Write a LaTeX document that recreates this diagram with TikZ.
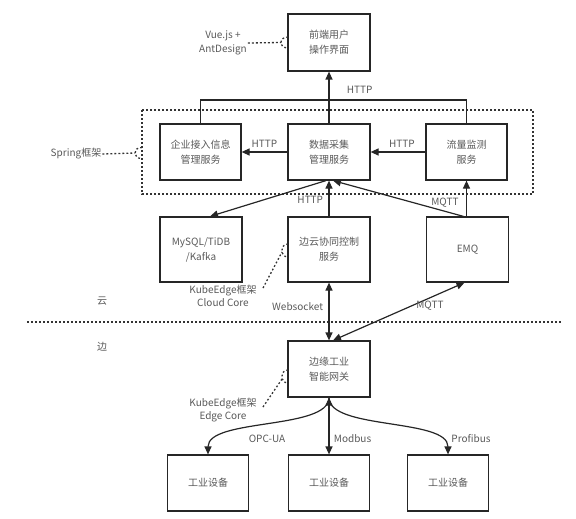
\documentclass[tikz,border=0pt]{standalone}
\usepackage{fontspec}
\setmainfont{Noto Sans CJK SC}
\usetikzlibrary{arrows.meta, positioning, calc}

\begin{document}
\begin{tikzpicture}[x=1pt,y=-1pt,font=\fontsize{10}{15}\selectfont,text=black!65,
    box/.style={draw=black!85,line width=1.2pt,minimum width=82pt,minimum height=56pt,
                align=center,inner sep=2pt},
    lbl/.style={align=center,inner sep=1pt,font=\fontsize{10}{13.5}\selectfont},
    link/.style={draw=black!85,line width=1.2pt,-{Triangle[length=8pt,width=7pt]}},
    both/.style={link,{Triangle[length=8pt,width=7pt]}-{Triangle[length=8pt,width=7pt]}},
    note/.style={draw=black!80,dash pattern=on 1.8pt off 2.2pt,line width=1.3pt}]
\useasboundingbox (0,0) rectangle (576,519);

% front end
\node[box,minimum height=57pt] (front) at (329,42.5) {前端用户\\操作界面};
\node[lbl] (vue) at (223,43) {Vue.js +\\AntDesign};

% spring services
\node[box,minimum width=81pt] (ent) at (200.5,152) {企业接入信息\\管理服务};
\node[box] (data) at (329,152) {数据采集\\管理服务};
\node[box,minimum width=81pt] (flow) at (466.5,152) {流量监测\\服务};
\draw[note] (142,110) rectangle (533,194);
\node[lbl] (spring) at (76,154) {Spring框架};

% cloud side
\node[box,minimum height=65pt] (db) at (201,249.5) {MySQL/TiDB\\/Kafka};
\node[box,minimum height=65pt] (ctl) at (329,249.5) {边云协同控制\\服务};
\node[box,minimum height=65pt] (emq) at (467.5,249.5) {EMQ};
\node[lbl] (cloudcore) at (223,296) {KubeEdge框架\\Cloud Core};

% cloud / edge split
\node[lbl] (yun) at (102,301) {云};
\node[lbl] (bian) at (102,347) {边};
\draw[note] (27,322) -- (562,322);

% edge side
\node[box] (gw) at (329,369) {边缘工业\\智能网关};
\node[lbl] (edgecore) at (223,410) {KubeEdge框架\\Edge Core};
\foreach \x/\name in {208/dev1,329/dev2,448/dev3}
    \node[box,minimum width=81pt] (\name) at (\x,483) {工业设备};

% notes
\draw[note] (vue.east) -- (281,42.5)
    (288,37) .. controls (283,37) and (281,40) .. (281,42.5)
    .. controls (281,45) and (283,48) .. (288,48);
\draw[note] (spring.east) -- (135,153)
    (142,147.5) .. controls (137,147.5) and (135,150) .. (135,153)
    .. controls (135,156) and (137,158.5) .. (142,158.5);
\draw[note] (263,288) -- (282,252)
    (288,244) .. controls (284,244) and (282,247) .. (282,250.5)
    .. controls (282,254) and (284,257) .. (288,257);
\draw[note] (263,407) -- (282,379)
    (288,370) .. controls (284,370) and (282,373) .. (282,376.5)
    .. controls (282,380) and (284,383) .. (288,383);

% top bus
\coordinate (bus) at (329,100);
\draw[link,-] (ent.north) |- (bus) -| (flow.north);
\draw[link] (data.north) -- (front.south) node[pos=0.64,anchor=west,xshift=14pt] {HTTP};

% inside spring
\draw[link] (data.west) -- (ent.east) node[midway,above=1pt] {HTTP};
\draw[link] (flow.west) -- (data.east) node[midway,above=1pt,xshift=4pt] {HTTP};

% cloud links
\draw[link] ($(data.south)+(-3,0)$) -- ($(db.north)+(9,0)$);
\draw[link] (ctl.north) -- (data.south) node[pos=0.45,left=2pt] {HTTP};
\draw[link] ($(emq.north)+(-4,0)$) -- ($(data.south)+(4,0)$);
\draw[link] (flow.south |- emq.north) -- (flow.south);
\node (mqtttop) at (445,203) {MQTT};

% cloud to edge
\draw[both] (gw.north) -- (ctl.south) node[pos=0.59,left=2pt] {Websocket};
\draw[both] ($(gw.north)+(4,0)$) -- ($(emq.south)+(-3,0)$);
\node (mqttlow) at (430,306) {MQTT};

% edge to devices
\draw[both] (gw.south) -- (dev2.north) node[pos=0.72,right=1pt] {Modbus};
\draw[link] (gw.south) .. controls (329,430) and (208,418) .. (dev1.north);
\draw[link] (gw.south) .. controls (329,430) and (448,418) .. (dev3.north);
\node (opcua) at (267,439) {OPC-UA};
\node (profibus) at (471,439) {Profibus};
\end{tikzpicture}
\end{document}
